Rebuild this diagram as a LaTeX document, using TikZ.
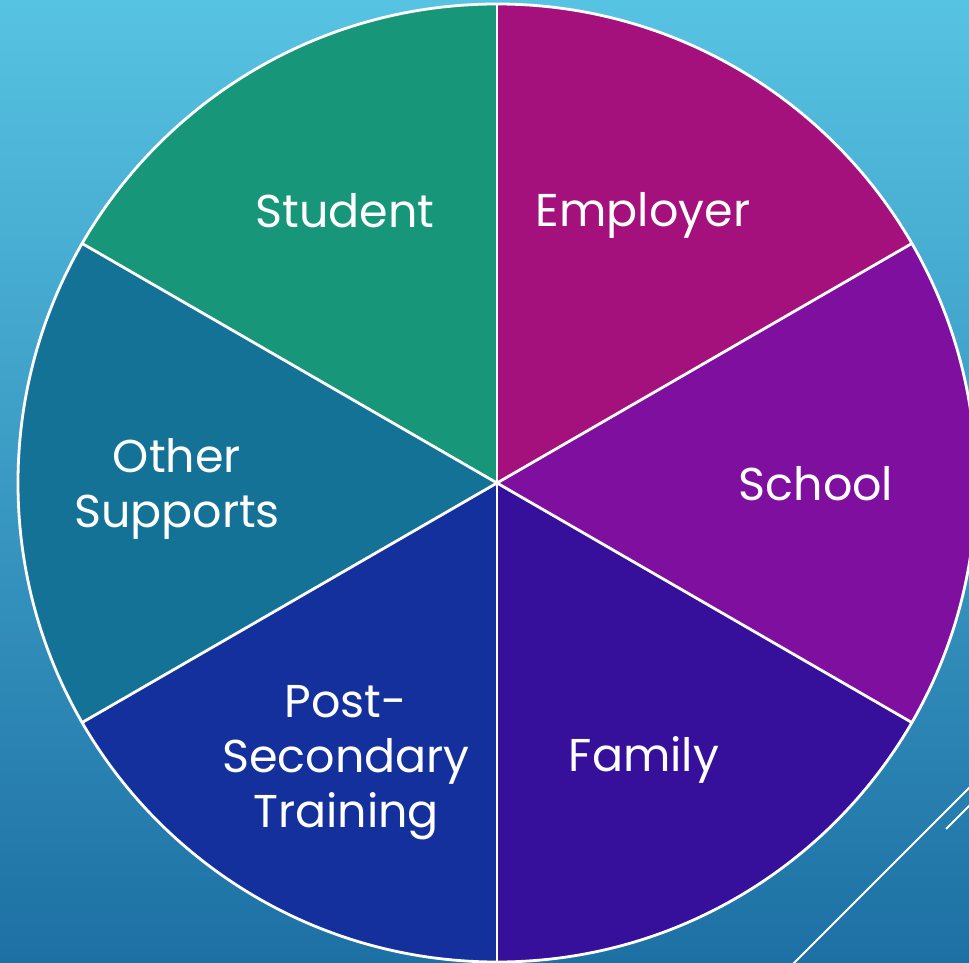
\documentclass[tikz,border=0pt]{standalone}
\usepackage{fontspec}
\setmainfont{Poppins}

\definecolor{bgtop}{HTML}{57C3E2}
\definecolor{bgbottom}{HTML}{1D70A4}
\definecolor{cstudent}{HTML}{17967A}
\definecolor{cemployer}{HTML}{A4107C}
\definecolor{cschool}{HTML}{7E0F9F}
\definecolor{cfamily}{HTML}{36109A}
\definecolor{cpost}{HTML}{14309C}
\definecolor{cother}{HTML}{157297}

\tikzset{
  wheel label/.style={text=white, align=center, inner sep=0.75pt,
    font=\fontsize{46}{55}\selectfont},
  rim/.style={draw=white, line width=2.8pt},
}

\begin{document}
\begin{tikzpicture}[x=1pt,y=1pt]
\useasboundingbox (-497,-480) rectangle (472,483);
\clip (-497,-480) rectangle (472,483);

% background
\shade[top color=bgtop, bottom color=bgbottom] (-497,-480) rectangle (472,483);

\coordinate (c) at (0,0);
\def\R{479}

% Sectors
\foreach \a/\col in {90/cemployer, 30/cschool, -30/cfamily, -90/cpost, -150/cother, -210/cstudent}{
  \pgfmathsetmacro{\b}{\a-60}
  \fill[\col] (c) -- (\a:\R) arc[start angle=\a, end angle=\b, radius=\R] -- cycle;
}

% Spokes and rim
\foreach \a in {90,30,-30,-90,-150,150}
  \draw[rim] (c) -- (\a:\R);
\draw[rim] (c) circle[radius=\R];

% Straight Lines
\draw[white, line width=2pt] (295,-482) -- (478,-299);
\draw[white, line width=2pt] (449,-346) -- (478,-317);

% Text Node
\node[wheel label] (student) at (-152,272) {Student};
\node[wheel label] (employer) at (146,268) {Employer};
\node[wheel label] (school) at (319,-1) {School};
\node[wheel label] (other) at (-320,-6) {Other\\Supports};
\node[wheel label] (family) at (147,-277) {Family};
\node[wheel label] (post) at (-151,-280) {Post-\\Secondary\\Training};

\end{tikzpicture}
\end{document}
